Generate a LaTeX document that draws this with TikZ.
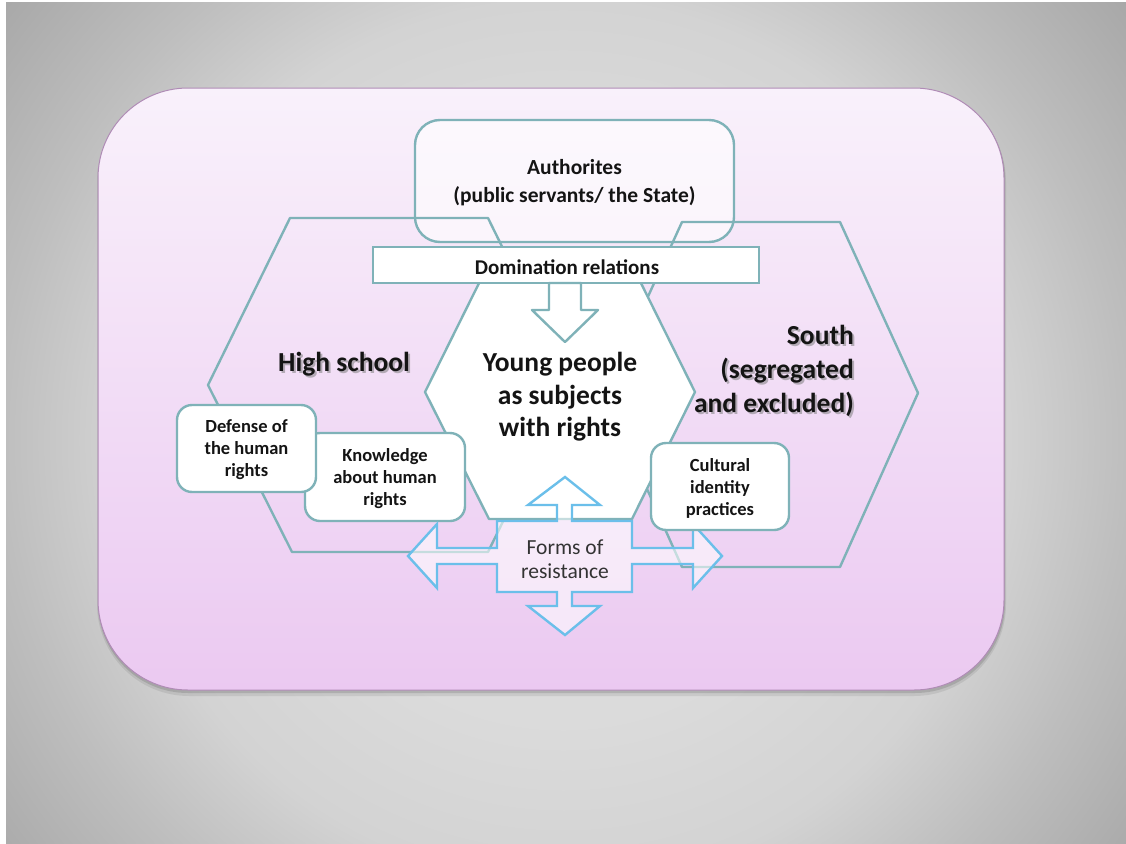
\documentclass[tikz,border=0pt]{standalone}
\usepackage{fontspec}
\setmainfont{Carlito}
\usetikzlibrary{shadings}
\definecolor{teal1}{RGB}{127,178,184}
\definecolor{blue1}{RGB}{107,191,234}
\definecolor{pinktop}{RGB}{249,241,251}
\definecolor{pinkbot}{RGB}{235,201,241}
\definecolor{pinkline}{RGB}{176,140,182}
\definecolor{bga}{RGB}{222,222,222}
\definecolor{bgb}{RGB}{219,219,219}
\definecolor{bgc}{RGB}{211,211,211}
\definecolor{bgd}{RGB}{190,190,190}
\definecolor{bge}{RGB}{168,168,168}
\definecolor{txt}{RGB}{20,20,20}
\pgfdeclareradialshading{bgshade}{\pgfpoint{0bp}{0bp}}{color(0bp)=(bga); color(8.75bp)=(bgb); color(13.75bp)=(bgc); color(17.6bp)=(bgd); color(22.3bp)=(bge); color(50bp)=(bge)}
\tikzset{
  hexline/.style={draw=teal1, line width=2.4pt, line join=round},
  tbox/.style={draw=teal1, line width=2.4pt, fill=white, rounded corners=15pt},
  boldtxt/.style={font=\bfseries, text=txt, align=center, inner sep=0pt},
}
\begin{document}
\begin{tikzpicture}[x=1pt,y=-1pt]
\useasboundingbox (0,0) rectangle (1126,843);
\fill[white] (0,0) rectangle (1126,843);
\begin{scope}
\clip (6,3) rectangle (1126,843);
\shade[shading=bgshade] (563,440) circle[radius=800];
\end{scope}
% shadow and main pink panel
\fill[black, opacity=0.08, rounded corners=92pt] (97,90) rectangle (1006,696);
\fill[black, opacity=0.12, rounded corners=90pt] (98,89) rectangle (1005,693);
\shade[top color=pinktop, bottom color=pinkbot, draw=pinkline, line width=1pt, rounded corners=90pt] (98,88) rectangle (1004,690);
% authorities box
\node[draw=teal1, line width=2.4pt, fill=white, fill opacity=0.6, text opacity=1, rounded corners=25pt, minimum width=319pt, minimum height=122pt, inner sep=0pt] (auth) at (574.5,181) {};
\node[boldtxt, font=\fontsize{21.5}{28}\selectfont\bfseries] (authT) at (574.5,183) {Authorites\\(public servants/ the State)};
% hexagons
\draw[hexline] (290,218) -- (488,218) -- (570,385) -- (488,552) -- (292,552) -- (208,385) -- cycle;
\draw[hexline] (682,222) -- (840,222) -- (918,393) -- (840,567) -- (682,567) -- (604,393) -- cycle;
\draw[hexline, fill=white] (425,392) -- (488,265) -- (632,265) -- (695,392) -- (632,519) -- (489,519) -- cycle;
\node[boldtxt, font=\fontsize{27.5}{32.5}\selectfont\bfseries] (young) at (560,397) {Young people\\as subjects\\with rights};
% domination box
\node[draw=teal1, line width=2.4pt, fill=white, minimum width=386pt, minimum height=36pt, inner sep=0pt] (dom) at (566,265) {};
\node[boldtxt, font=\fontsize{21}{24}\selectfont\bfseries] (domT) at (567,267) {Domination relations};
% down arrow
\draw[hexline, fill=white] (549,283) -- (581,283) -- (581,310) -- (598,310) -- (565,342) -- (532,310) -- (549,310) -- cycle;
% region labels with shadow
\node[boldtxt, font=\fontsize{27.5}{33}\selectfont\bfseries, text=black!50, opacity=0.55] (hsS) at (346,366) {High school};
\node[boldtxt, font=\fontsize{27.5}{33}\selectfont\bfseries] (hs) at (344,364) {High school};
\node[boldtxt, align=right, anchor=east, font=\fontsize{27.5}{34}\selectfont\bfseries, text=black!50, opacity=0.55] (southS) at (856,373) {South\\(segregated\\and excluded)};
\node[boldtxt, align=right, anchor=east, font=\fontsize{27.5}{34}\selectfont\bfseries] (south) at (854,371) {South\\(segregated\\and excluded)};
% knowledge / defense boxes
\node[tbox, minimum width=160pt, minimum height=88pt] (know) at (385,477) {};
\node[boldtxt, font=\fontsize{18.5}{22}\selectfont\bfseries] (knowT) at (385,479) {Knowledge\\about human\\rights};
\node[tbox, minimum width=139pt, minimum height=87pt] (def) at (246.5,448.5) {};
\node[boldtxt, font=\fontsize{18.5}{22}\selectfont\bfseries] (defT) at (246.5,450) {Defense of\\the human\\rights};
% forms of resistance
\draw[draw=blue1, line width=2.4pt, line join=miter, fill=white, fill opacity=0.55]
  (565,477) -- (600,505) -- (572,505) -- (572,521) -- (632,521) -- (632,548) -- (693,548) -- (693,524) -- (722,556) -- (693,588) -- (693,564) -- (632,564) -- (632,592) -- (572,592) -- (572,606) -- (600,606) -- (565,635) -- (528,606) -- (557,606) -- (557,592) -- (497,592) -- (497,564) -- (437,564) -- (437,588) -- (408,556) -- (437,524) -- (437,548) -- (497,548) -- (497,521) -- (557,521) -- (557,505) -- (528,505) -- cycle;
\node[align=center, inner sep=0pt, text=black!80, font=\fontsize{21.5}{24}\selectfont] (forms) at (565,559) {Forms of\\resistance};
% cultural box
\node[tbox, minimum width=138pt, minimum height=87pt] (cult) at (720,486.5) {};
\node[boldtxt, font=\fontsize{18.5}{22}\selectfont\bfseries] (cultT) at (720,488) {Cultural\\identity\\practices};
\end{tikzpicture}
\end{document}
